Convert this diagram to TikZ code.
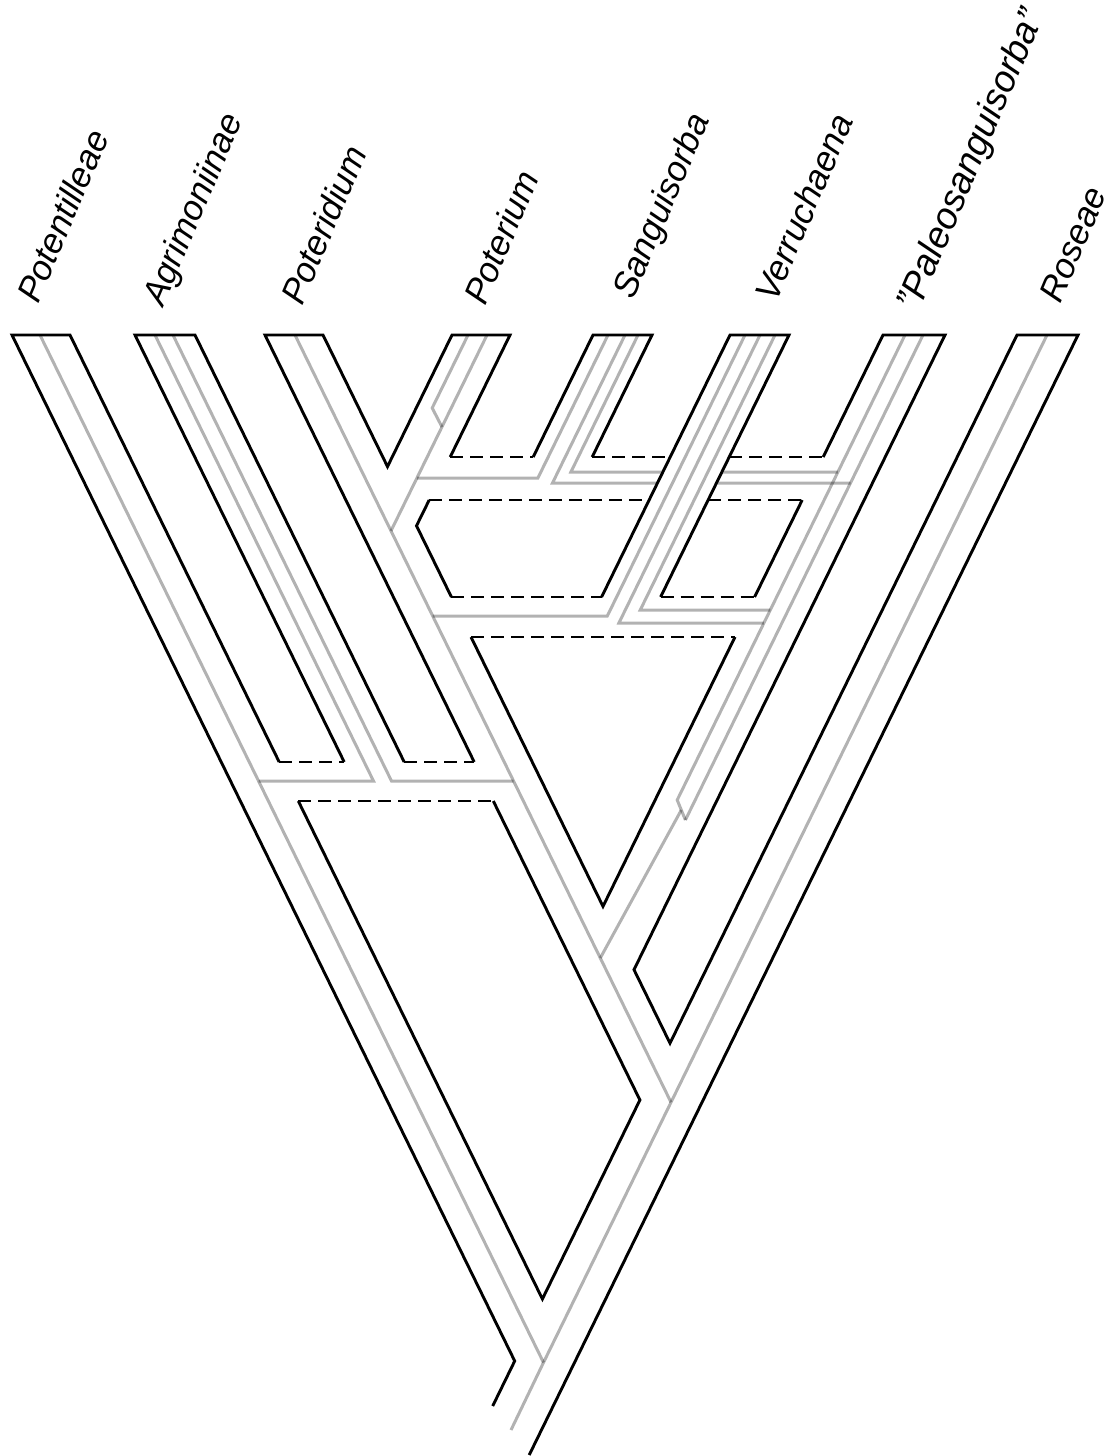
\documentclass[tikz,border=0pt]{standalone}
\usepackage{fontspec}
\setmainfont{Liberation Sans}
\begin{document}
\begin{tikzpicture}[x=0.5pt,y=-0.5pt,
  blk/.style={line width=1.45pt, draw=black, line join=miter},
  dsh/.style={line width=1.45pt, draw=black, dash pattern=on 6.5pt off 3.5pt},
  gry/.style={line width=1.5pt, draw=black, draw opacity=0.3},
  lbl/.style={font=\fontsize{17.5}{20}\selectfont\itshape, rotate=67, anchor=base west, inner sep=0pt}]
\useasboundingbox (0,0) rectangle (1112,1456);
% ---------- gene lineages (grey) ----------
\draw[gry] (40,335) -- (543.5,1362.5);
\draw[gry] (155,335) -- (373.5,781) -- (258.5,781);
\draw[gry] (173,335) -- (391.5,781) -- (513.5,781);
\draw[gry] (295,335) -- (671,1102.3);
\draw[gry] (468,335) -- (432.2,408) -- (442,427);
\draw[gry] (487,335) -- (391,530.9);
\draw[gry] (416.9,478) -- (537.9,478) -- (608,335);
\draw[gry] (625,335) -- (552.5,483) -- (850.5,483);
\draw[gry] (638,335) -- (570.9,472) -- (837.9,472);
\draw[gry] (905,335) -- (677.2,800) -- (685.4,820);
\draw[gry] (923,335) -- (685.4,820);
\draw[gry] (681.3,810) -- (600.3,958);
\draw[gry] (1047,335) -- (671,1102.3) -- (543.5,1362.5) -- (511,1430);
% ---------- Verruchaena tube passes over ----------
\fill[white] (730,335) -- (789,335) -- (660.6,597) -- (601.6,597) -- cycle;
\draw[gry] (745,335) -- (607.3,616) -- (432.7,616);
\draw[gry] (760,335) -- (618.9,623) -- (763.9,623);
\draw[gry] (775,335) -- (640.25,610) -- (770.25,610);
% ---------- species tree outline ----------
\draw[blk] (492.7,1406) -- (514.7,1361) -- (12,335) -- (70,335) -- (279.2,762);
\draw[blk] (344.2,762) -- (135,335) -- (195,335) -- (404.2,762);
\draw[blk] (474.2,762) -- (265,335) -- (323,335) -- (387.5,466.6) -- (452,335) -- (510,335) -- (450.2,457);
\draw[blk] (533.2,457) -- (593,335) -- (652,335) -- (592.2,457);
\draw[blk] (601.6,597) -- (730,335) -- (789,335) -- (660.6,597);
\draw[blk] (823.2,457) -- (883,335) -- (945,335) -- (634,969.7) -- (670,1043.2) -- (1017,335) -- (1078,335) -- (529.2,1455);
\draw[blk] (429.2,500) -- (416.5,525.8) -- (451.4,597);
\draw[blk] (802.2,500) -- (754.6,597);
\draw[blk] (471,637) -- (603,906.4) -- (735,637);
\draw[blk] (298.3,801) -- (542.4,1299) -- (639.9,1100) -- (493.3,801);
% dashed closures
\draw[dsh] (279.2,762) -- (344.2,762);
\draw[dsh] (404.2,762) -- (474.2,762);
\draw[dsh] (450.2,457) -- (533.2,457);
\draw[dsh] (592.2,457) -- (670.2,457);
\draw[dsh] (729.2,457) -- (823.2,457);
\draw[dsh] (429.2,500) -- (649.1,500);
\draw[dsh] (708.1,500) -- (802.2,500);
\draw[dsh] (451.4,597) -- (601.6,597);
\draw[dsh] (660.6,597) -- (754.6,597);
\draw[dsh] (471,637) -- (735,637);
\draw[dsh] (298.3,801) -- (493.3,801);
% ---------- labels ----------
\node[lbl] (l1) at (38,305) {Potentilleae};
\node[lbl] (l2) at (163,308) {Agrimoniinae};
\node[lbl] (l3) at (302,307) {Poteridium};
\node[lbl] (l4) at (485,307) {Poterium};
\node[lbl] (l5) at (633,301) {Sanguisorba};
\node[lbl] (l6) at (776,304) {Verruchaena};
\node[lbl, font=\fontsize{18.6}{21}\selectfont\itshape] (l7) at (918,313) {\char34 Paleosanguisorba\char34};
\node[lbl] (l8) at (1060,305) {Roseae};
\end{tikzpicture}
\end{document}
